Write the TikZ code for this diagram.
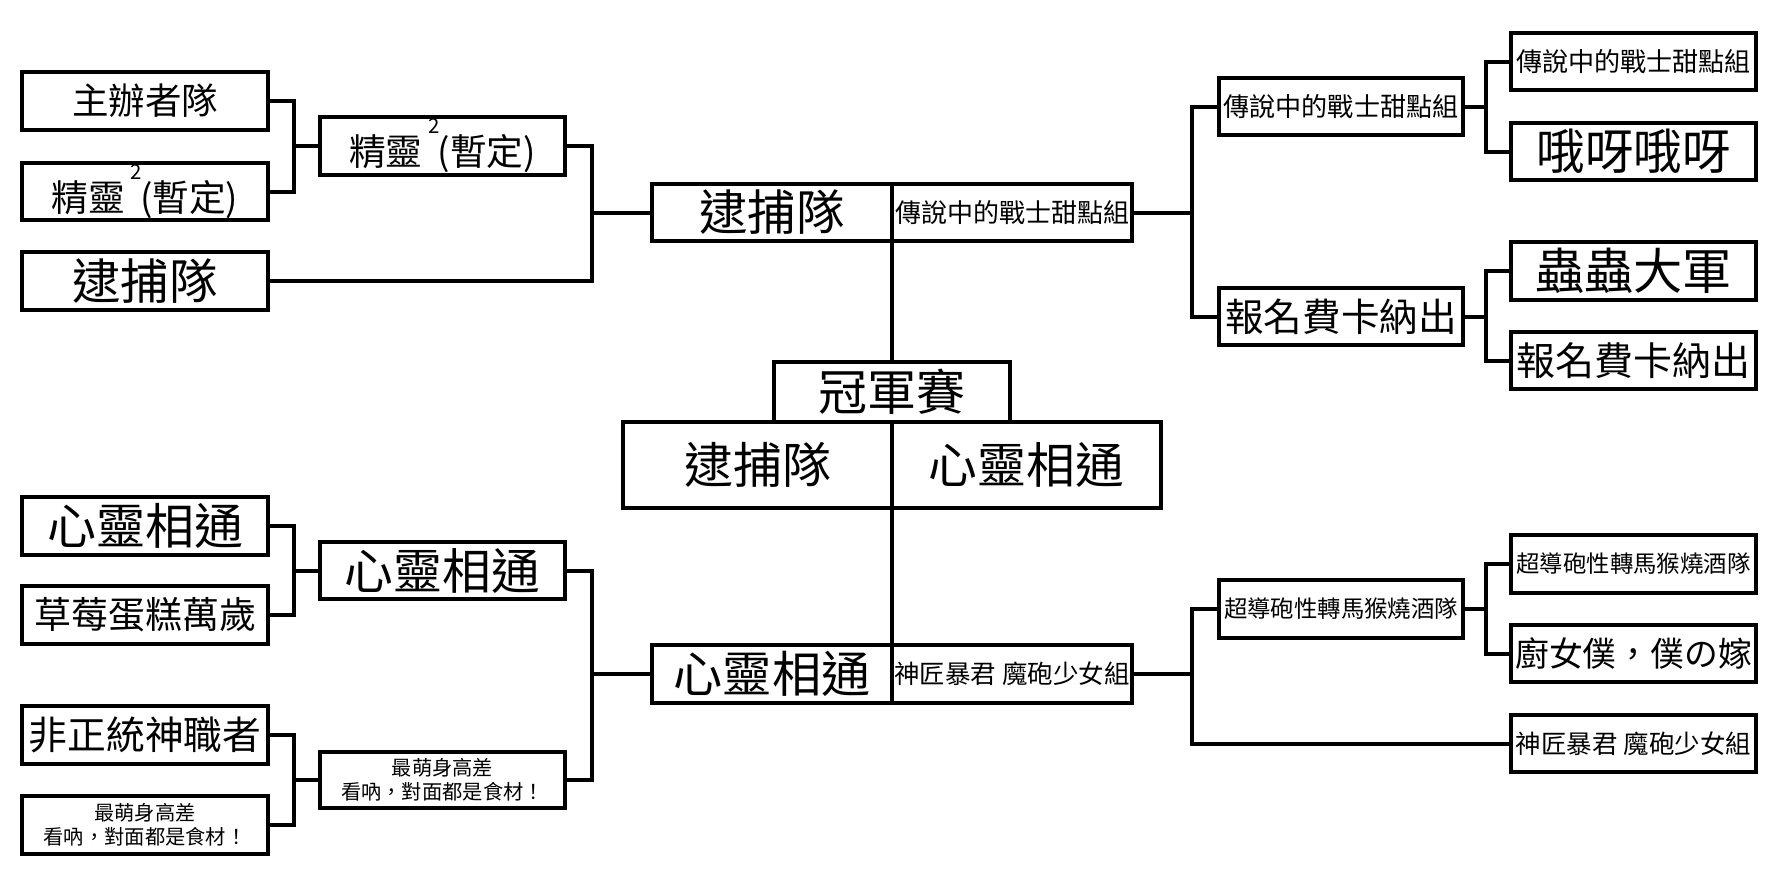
\documentclass[tikz,border=0pt]{standalone}
\usepackage{fontspec}
\setmainfont{Noto Sans CJK TC}
\newcommand\sqtwo{\hspace{0.15em}\raisebox{0.88em}{\fontsize{20.5}{20.5}\selectfont 2}\hspace{-0.05em}}
\begin{document}
\begin{tikzpicture}[x=1pt,y=-1pt,line join=miter,
  box/.style={draw,line width=4pt,inner sep=0pt,outer sep=0pt,align=center},
  fs/.style={font={\fontsize{#1}{#1}\selectfont}},
  wire/.style={line width=4pt}]
\fill[white] (0,0) rectangle (1788,878);
\useasboundingbox (0,0) rectangle (1788,878);
% ---------- top left ----------
\node[box,fs=36.5,minimum width=246,minimum height=58] (A1) at (145,101) {主辦者隊};
\node[box,fs=36.7,minimum width=246,minimum height=57] (A2) at (145,191.5) {精靈\sqtwo(暫定)};
\node[box,fs=48.5,minimum width=246,minimum height=58] (A3) at (145,281) {逮捕隊};
\node[box,fs=36.7,minimum width=245,minimum height=58] (B1) at (442.5,146) {精靈\sqtwo(暫定)};
% ---------- centre ----------
\node[box,fs=48.5,minimum width=240,minimum height=57] (S1L) at (772,212.5) {逮捕隊};
\node[box,fs=26,minimum width=240,minimum height=57] (S1R) at (1012,212.5) {傳說中的戰士甜點組};
\node[box,fs=49,minimum width=236,minimum height=60] (Champ) at (892,392) {冠軍賽};
\node[box,fs=49,minimum width=269,minimum height=86] (FinL) at (757.5,465) {逮捕隊};
\node[box,fs=48.8,minimum width=269,minimum height=86] (FinR) at (1026.5,465) {心靈相通};
\node[box,fs=49.2,minimum width=240,minimum height=58] (S2L) at (772,674) {心靈相通};
\node[box,fs=25.5,minimum width=240,minimum height=58] (S2R) at (1012,674) {神匠暴君 魔砲少女組};
% ---------- top right ----------
\node[box,fs=26.1,minimum width=244,minimum height=57] (C1) at (1341,106.5) {傳說中的戰士甜點組};
\node[box,fs=38.6,minimum width=244,minimum height=57] (C2) at (1341,316.5) {報名費卡納出};
\node[box,fs=26.1,minimum width=245,minimum height=57] (D1) at (1633.5,61.5) {傳說中的戰士甜點組};
\node[box,fs=48.5,minimum width=245,minimum height=57] (D2) at (1633.5,151.5) {哦呀哦呀};
\node[box,fs=49.2,minimum width=245,minimum height=58] (D3) at (1633.5,271) {蟲蟲大軍};
\node[box,fs=39,minimum width=245,minimum height=57] (D4) at (1633.5,360.5) {報名費卡納出};
% ---------- bottom left ----------
\node[box,fs=49,minimum width=246,minimum height=58] (E1) at (145,526) {心靈相通};
\node[box,fs=37,minimum width=246,minimum height=58] (E2) at (145,615) {草莓蛋糕萬歲};
\node[box,fs=38.8,minimum width=246,minimum height=58] (E3) at (145,735) {非正統神職者};
\node[box,font={\fontsize{20.3}{24}\selectfont},minimum width=246,minimum height=58] (E4) at (145,825) {最萌身高差\\看吶，對面都是食材！};
\node[box,fs=48.8,minimum width=245,minimum height=57] (F1) at (442.5,570.5) {心靈相通};
\node[box,font={\fontsize{20.3}{24}\selectfont},minimum width=245,minimum height=56] (F2) at (442.5,780) {最萌身高差\\看吶，對面都是食材！};
% ---------- bottom right ----------
\node[box,fs=23.4,minimum width=244,minimum height=58] (G1) at (1341,609) {超導砲性轉馬猴燒酒隊};
\node[box,fs=23.4,minimum width=245,minimum height=58] (H1) at (1633.5,564) {超導砲性轉馬猴燒酒隊};
\node[box,fs=33.8,minimum width=245,minimum height=57] (H2) at (1633.5,653.5) {廚女僕，僕の嫁};
\node[box,fs=25.5,minimum width=245,minimum height=57] (H3) at (1633.5,743.5) {神匠暴君 魔砲少女組};
% ---------- junctions ----------
\coordinate (jA) at (294,146);
\coordinate (jB) at (591.5,212.5);
\coordinate (jC) at (1191.5,212.5);
\coordinate (jD) at (1486,106.5);
\coordinate (jE) at (1486,316.5);
\coordinate (jF) at (294,570.5);
\coordinate (jG) at (294,780);
\coordinate (jH) at (591.5,674);
\coordinate (jI) at (1191.5,674);
\coordinate (jJ) at (1486,609);
% ---------- connectors ----------
\draw[wire] (A1.east) -| (jA) |- (A2.east);
\draw[wire] (jA) -- (B1.west);
\draw[wire] (B1.east) -| (jB) |- (A3.east);
\draw[wire] (jB) -- (S1L.west);
\draw[wire] (S1R.east) -- (jC);
\draw[wire] (C1.west) -| (jC) |- (C2.west);
\draw[wire] (D1.west) -| (jD) |- (D2.west);
\draw[wire] (C1.east) -- (jD);
\draw[wire] (D3.west) -| (jE) |- (D4.west);
\draw[wire] (C2.east) -- (jE);
\draw[wire] (S1L.south east) -- (S1L.south east |- Champ.north);
\draw[wire] (FinL.south east) -- (S2L.north east);
\draw[wire] (E1.east) -| (jF) |- (E2.east);
\draw[wire] (jF) -- (F1.west);
\draw[wire] (E3.east) -| (jG) |- (E4.east);
\draw[wire] (jG) -- (F2.west);
\draw[wire] (F1.east) -| (jH) |- (F2.east);
\draw[wire] (jH) -- (S2L.west);
\draw[wire] (S2R.east) -- (jI);
\draw[wire] (G1.west) -| (jI) |- (H3.west);
\draw[wire] (H1.west) -| (jJ) |- (H2.west);
\draw[wire] (G1.east) -- (jJ);
\end{tikzpicture}
\end{document}
